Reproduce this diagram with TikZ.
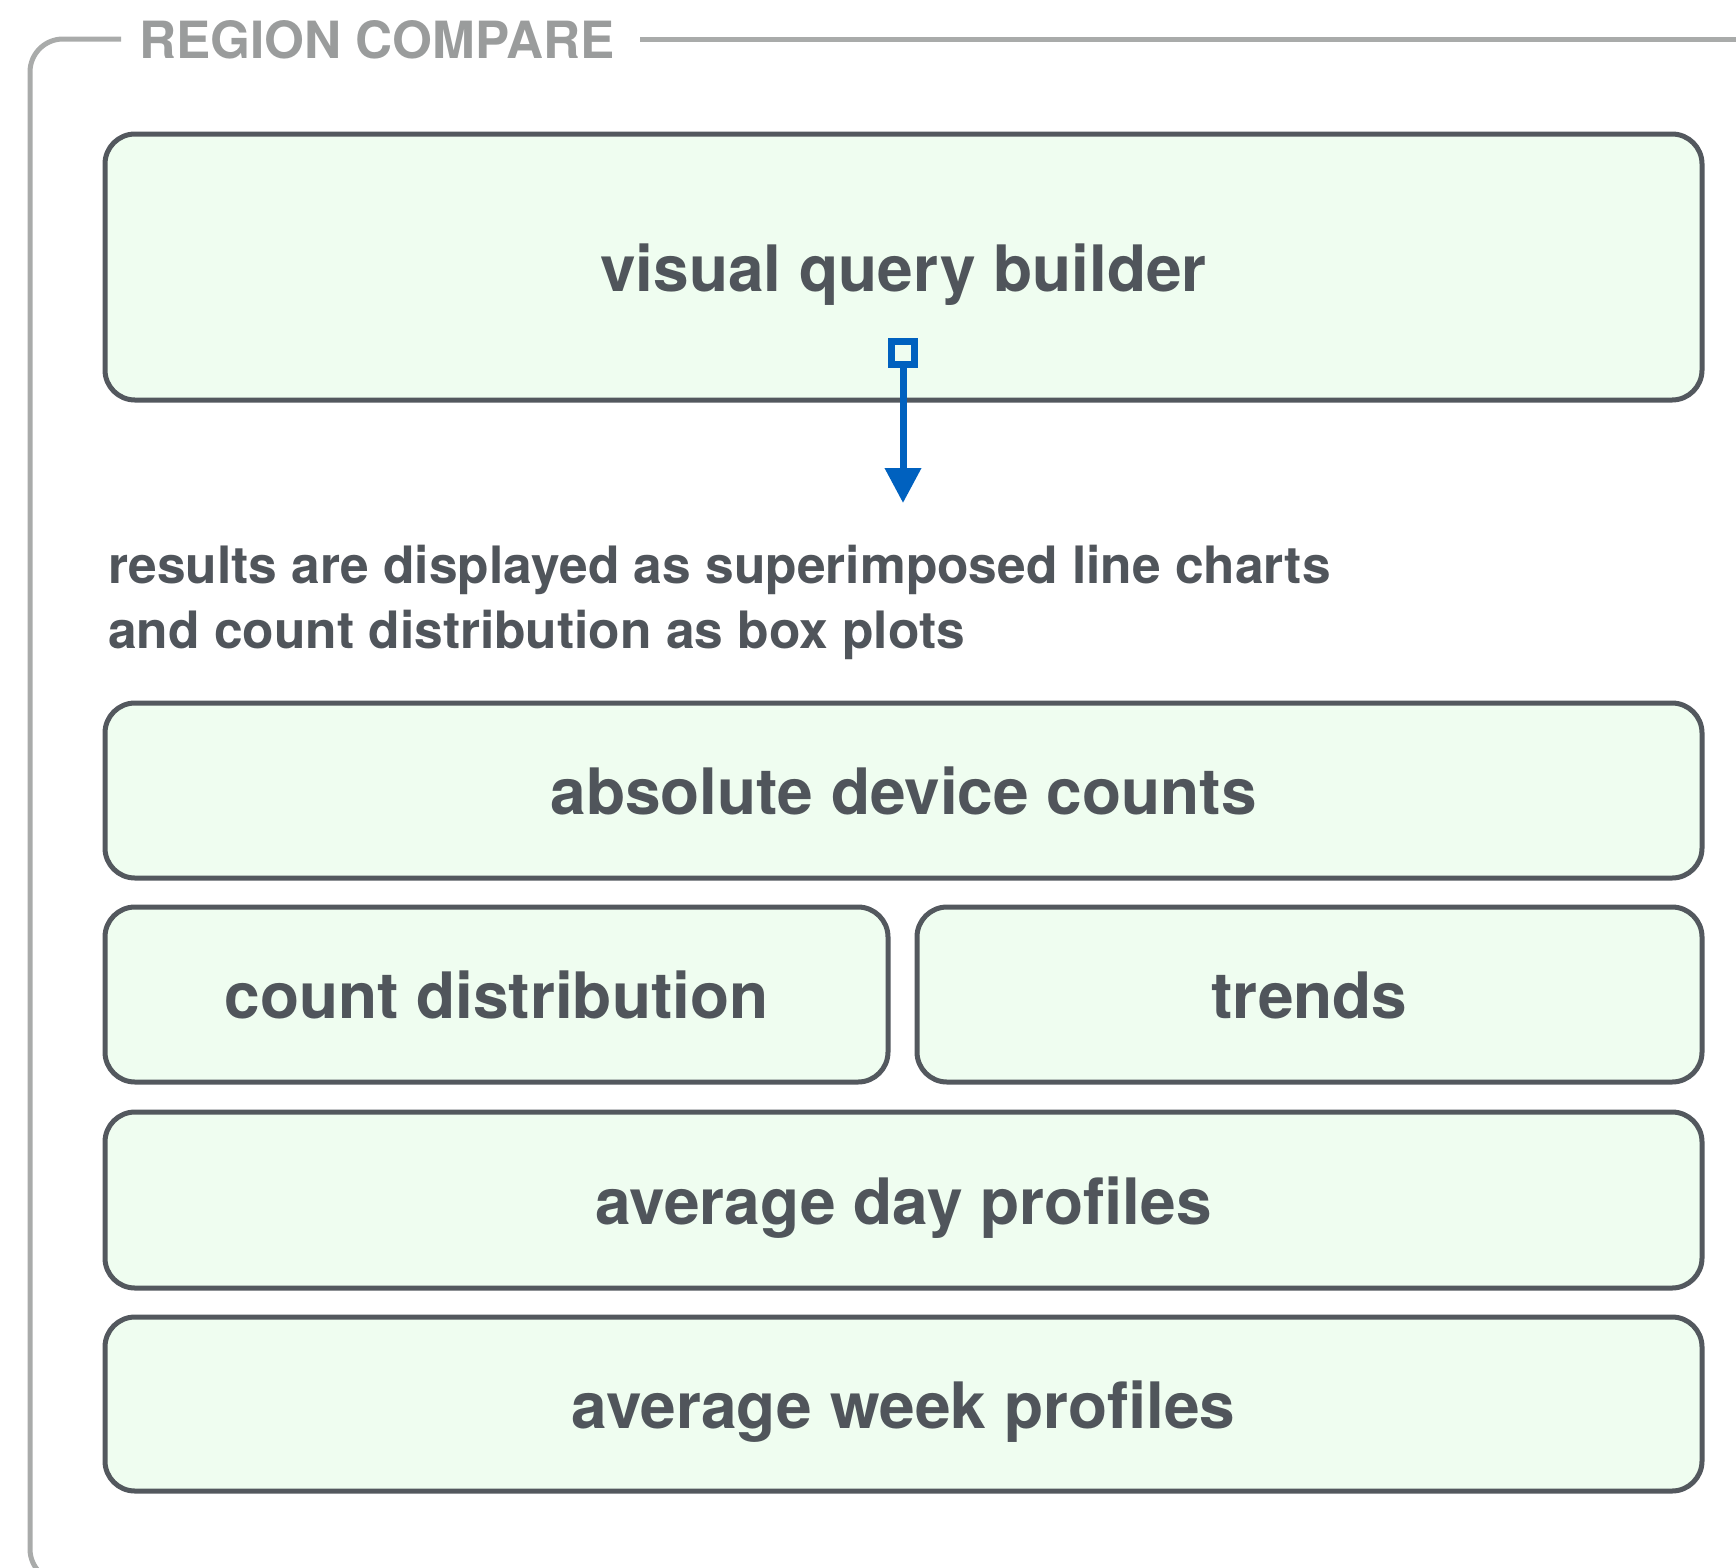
\documentclass[tikz,border=0pt]{standalone}
\usepackage{fontspec}
\setmainfont{TeX Gyre Heros}
\usetikzlibrary{arrows.meta}
\definecolor{framegray}{HTML}{A9ABAA}
\definecolor{titlegray}{HTML}{9A9C9C}
\definecolor{boxborder}{HTML}{53585E}
\definecolor{boxfill}{HTML}{EFFDF0}
\definecolor{textc}{HTML}{50555B}
\definecolor{flowblue}{HTML}{0061BF}
\tikzset{
  panel/.style={rectangle, rounded corners=30pt, draw=boxborder, fill=boxfill,
    line width=5pt, inner sep=0pt, text=textc,
    font=\bfseries\fontsize{64}{77}\selectfont, text height=48pt, text depth=0pt},
  desctext/.style={anchor=base west, inner sep=0pt, text=textc,
    font=\bfseries\fontsize{51.5}{61}\selectfont},
  frameline/.style={draw=framegray, line width=5pt},
  flow/.style={draw=flowblue, line width=7pt},
}
\begin{document}
\begin{tikzpicture}[x=1pt,y=-1pt]
\useasboundingbox (0,0) rectangle (1736,1567);
\clip (0,0) rectangle (1736,1567);
% outer region frame
\node[anchor=base west, inner sep=0pt, text=titlegray,
  font=\bfseries\fontsize{51.3}{60}\selectfont] (title) at (139,58) {REGION COMPARE};
\draw[frameline, rounded corners=33pt] (121,39) -- (30,39) -- (30,1582) -- (1800,1582);
\draw[frameline] (640,39) -- (1800,39);
% panels
\node[panel, minimum width=1597pt, minimum height=266pt] (vqb) at (903.5,267) {visual query builder};
\node[panel, minimum width=1597pt, minimum height=175pt] (adc) at (903.5,790.5) {absolute device counts};
\node[panel, minimum width=783pt, minimum height=175pt] (cd) at (496.5,994.5) {count distribution};
\node[panel, minimum width=785pt, minimum height=175pt] (tr) at (1309.5,994.5) {trends};
\node[panel, minimum width=1597pt, minimum height=176pt] (adp) at (903.5,1200) {average day profiles};
\node[panel, minimum width=1597pt, minimum height=174pt] (awp) at (903.5,1404) {average week profiles};
% description
\node[desctext] (desc1) at (108,583) {results are displayed as superimposed line charts};
\node[desctext] (desc2) at (108,648) {and count distribution as box plots};
% connector
\node[rectangle, draw=flowblue, line width=7pt, minimum size=23pt, inner sep=0pt] (sq) at (903,353) {};
\coordinate (tip) at (903,503);
\draw[flow, -{Triangle[length=35pt, width=35pt]}] (sq.south) -- (tip);
\end{tikzpicture}
\end{document}
